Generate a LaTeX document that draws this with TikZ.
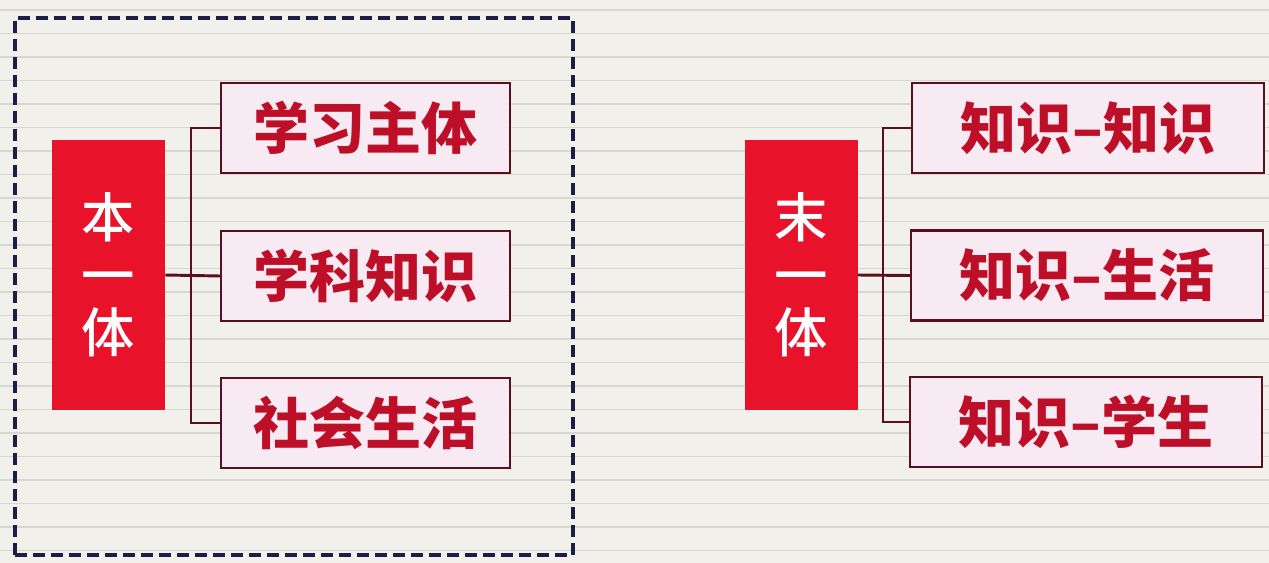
\documentclass[tikz,border=0pt]{standalone}
\usepackage{fontspec}
\newfontfamily\cjk{Noto Sans CJK SC}
\newfontfamily\cjkm{Noto Sans CJK SC Medium}
\definecolor{bgc}{HTML}{F2F0EA}
\definecolor{stripec}{HTML}{D6D6D2}
\definecolor{rootred}{HTML}{E8132B}
\definecolor{boxfill}{HTML}{F7EAF2}
\definecolor{boxline}{HTML}{5A0F1F}
\definecolor{textred}{HTML}{BE0F28}
\definecolor{navy}{HTML}{1B1F45}
\tikzset{
  rootbox/.style={fill=rootred, draw=none, minimum width=84.75pt, minimum height=202.5pt,
    align=center, text=white, inner sep=0pt, font=\cjkm\fontsize{40}{43}\selectfont},
  leafbox/.style={fill=boxfill, draw=boxline, line width=1.6pt, minimum height=67.5pt,
    inner sep=0pt, text=textred, font=\cjk\bfseries\fontsize{42}{50}\selectfont},
  conn/.style={draw=boxline, line width=2.2pt},
  dashbox/.style={draw=navy, line width=2.3pt, dash pattern=on 9pt off 4.5pt,
    minimum width=418.5pt, minimum height=402.75pt, inner sep=0pt},
  stripe/.style={draw=stripec, line width=1pt}
}
\begin{document}
\begin{tikzpicture}[x=0.75pt,y=-0.75pt]
\useasboundingbox (0,0) rectangle (1269,563);
\fill[bgc] (0,0) rectangle (1269,563);
\foreach \yy in {10,33.5,...,560} \draw[stripe] (0,\yy) -- (1269,\yy);

% frame
\node[dashbox] (frame) at (294,286.5) {};

% left group
\node[rootbox] (L) at (108.5,275) {本\\一\\体};
\node[leafbox, minimum width=216.75pt] (a1) at (365.5,128) {学习主体};
\node[leafbox, minimum width=216.75pt] (a2) at (365.5,276) {学科知识};
\node[leafbox, minimum width=216.75pt] (a3) at (365.5,423) {社会生活};
\coordinate (jl) at (191,275);
\draw[conn] (L.east) -- (a2.west);
\draw[conn] (a1.west) -| (jl) |- (a3.west);

% right group
\node[rootbox] (R) at (801,275) {末\\一\\体};
\node[leafbox, minimum width=264pt] (b1) at (1088,128) {知识–知识};
\node[leafbox, minimum width=264pt] (b2) at (1087,275.5) {知识–生活};
\node[leafbox, minimum width=264pt] (b3) at (1086,422) {知识–学生};
\coordinate (jr) at (883,275);
\draw[conn] (R.east) -- (b2.west);
\draw[conn] (b1.west) -| (jr) |- (b3.west);
\end{tikzpicture}
\end{document}
